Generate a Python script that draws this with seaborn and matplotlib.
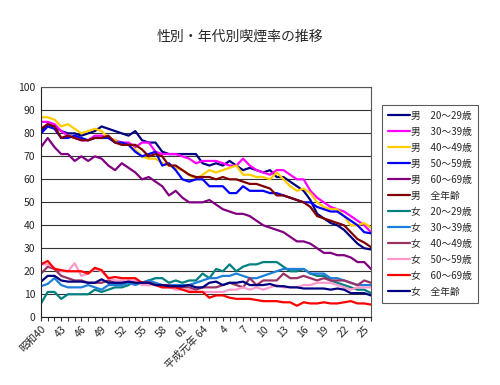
import pandas as pd
import matplotlib
matplotlib.use("Agg")
import matplotlib.pyplot as plt
import seaborn as sns

# years 1965 (昭和40) .. 2014 (平成26)
years = list(range(1965, 2015))

m20 = [81, 84, 83, 81, 80, 80, 79, 80, 81, 83, 82, 81, 80, 79, 81, 77, 76, 76, 72, 71,
       71, 71, 71, 71, 67, 66, 67, 66, 68, 66, 64, 65, 64, 63, 64, 61, 61, 59, 57, 55,
       51, 45, 43, 41, 40, 38, 35, 32, 30, 29.5]
m30 = [85, 85, 84, 81, 79, 78, 77, 77, 79, 79, 78, 77, 76, 76, 74, 76, 76, 72, 71, 71,
       71, 70, 69, 67, 68, 68, 68, 67, 66, 66, 69, 66, 64, 63, 62, 64, 64, 62, 60, 60,
       55, 52, 50, 48, 47, 46, 44, 42, 40, 37]
m40 = [87, 87, 86, 83, 84, 82, 80, 81, 82, 81, 78, 77, 75, 75, 73, 70, 69, 69, 67, 66,
       65, 64, 62, 60, 62, 64, 63, 64, 65, 66, 62, 62, 61, 61, 60, 63, 60, 57, 55, 56,
       54, 50, 48, 47, 47, 44, 40, 40, 41, 39]
m50 = [80, 83, 82, 78, 78, 79, 78, 77, 78, 78, 78, 76, 76, 75, 72, 70, 71, 72, 66, 67,
       64, 60, 59, 60, 60, 57, 57, 57, 54, 54, 57, 55, 55, 55, 54, 54, 53, 52, 51, 50,
       50, 48, 47, 46, 46, 44, 42, 40, 37, 36.5]
m60 = [74, 78, 74, 71, 71, 68, 70, 68, 70, 69, 66, 64, 67, 65, 63, 60, 61, 59, 57, 53,
       55, 52, 50, 50, 50, 51, 49, 47, 46, 45, 45, 44, 42, 40, 39, 38, 37, 35, 33, 33,
       32, 30, 28, 28, 27, 27, 26, 24, 24, 21]
m_all = [82, 84, 83, 78, 79, 78, 77, 77, 78, 78, 79, 76, 75, 75, 75, 73, 70, 71, 70, 66,
         66, 64, 62, 61, 61, 61, 60, 61, 60, 60, 59, 58, 58, 57, 56, 53, 53, 52, 51, 50,
         48, 44, 43, 42, 41, 40, 37, 34, 32.5, 30.5]
f20 = [6, 11, 11, 8, 10, 10, 10, 10, 12, 11, 12, 13, 13, 14, 16, 15, 16, 17, 17, 15,
       16, 15, 16, 16, 19, 17, 21, 20, 23, 20, 22, 23, 23, 24, 24, 24, 22, 20, 20, 21,
       19, 18, 18, 16, 15, 14, 13, 12, 12, 10.5]
f30 = [13.5, 14.5, 17, 14, 13, 13, 13, 14, 13, 12, 14, 14, 14, 15, 14, 15, 16, 15, 14, 14,
       14, 14, 14, 15, 16, 17, 17, 18, 18, 19, 18, 17, 17, 18, 19, 20, 21, 21, 21, 21,
       19, 19, 19, 17, 17, 16, 15, 14, 14, 14]
f40 = [19, 22, 21, 18, 17, 16, 16, 15, 15, 15, 16, 15, 15, 16, 15, 15, 15, 14, 14, 14,
       13, 13, 13, 12, 13, 13, 13, 14, 15, 14, 13, 17, 14, 16, 16, 16, 19, 17, 17, 18,
       17, 16, 17, 16, 16, 16, 15, 14, 16, 15]
f50 = [23, 23, 21.5, 20, 20, 23.5, 18, 19, 21, 20, 17, 16, 16, 16, 16, 14, 14, 14, 13, 13,
       12, 12, 12, 11, 11, 11, 11, 11, 12, 12, 13, 12, 13, 12, 13, 14, 13, 13, 13, 14,
       14, 15, 15, 15, 14, 13, 12, 13, 13, 13]
f60 = [23, 24.5, 21, 20.5, 20, 20, 20, 19, 21.5, 20.5, 17, 17.5, 17, 17, 17, 15, 15, 14, 13, 13,
       13, 12, 11, 11, 11, 8.5, 9.5, 9.5, 8.5, 8, 8, 8, 7.5, 7, 7, 7, 6.5, 6.5, 5, 6.5,
       6, 6, 6.5, 6, 6, 6.5, 7, 6, 6, 5.5]
f_all = [15.5, 18, 18, 16, 15.5, 15.5, 15.5, 15, 15, 16.5, 15, 15, 15, 15.5, 15, 15, 15, 14, 14, 13.5,
         13.5, 13.5, 14, 13, 13, 15, 15.5, 14, 15, 15, 15.5, 14, 14, 14, 14.5, 13.5, 13.5, 13, 13, 12.5,
         12.5, 12.5, 12.5, 12, 12.5, 12, 10.5, 10.5, 10.5, 9.5]

labels = ["男　20～29歳", "男　30～39歳", "男　40～49歳", "男　50～59歳", "男　60～69歳", "男　全年齢",
          "女　20～29歳", "女　30～39歳", "女　40～49歳", "女　50～59歳", "女　60～69歳", "女　全年齢"]
series = [m20, m30, m40, m50, m60, m_all, f20, f30, f40, f50, f60, f_all]
colors = ["#000080", "#FF00FF", "#FFCC00", "#0000FF", "#800080", "#800000",
          "#008080", "#1E7FD8", "#993366", "#FF99CC", "#FF0000", "#000080"]

tick_text = ["昭和40", "43", "46", "49", "52", "55", "58", "61", "平成元年 64",
             "4", "7", "10", "13", "16", "19", "22", "25"]

rows = []
for lab, vals in zip(labels, series):
    for i, v in enumerate(vals):
        rows.append({"idx": i, "rate": v, "group": lab})
df = pd.DataFrame(rows)

sns.set_style("white")
plt.rcParams["font.family"] = ["Noto Sans CJK JP", "DejaVu Sans"]

fig = plt.figure(figsize=(5, 3.85), dpi=100)
ax = fig.add_axes([0.082, 0.176, 0.66, 0.597])

sns.lineplot(data=df, x="idx", y="rate", hue="group", hue_order=labels,
             palette=dict(zip(labels, colors)), linewidth=1.6, ax=ax, legend=False)

ax.set_xlim(0, len(years) - 1)
ax.set_ylim(0, 100)
ax.set_yticks(range(0, 101, 10))
ax.yaxis.grid(True, color="#333333", linewidth=0.8)
ax.set_axisbelow(True)
ax.set_xlabel("")
ax.set_ylabel("")

ax.set_xticks(range(0, len(years)), minor=True)
ax.set_xticks(range(0, len(years), 3))
ax.set_xticklabels(tick_text, rotation=45, ha="right", rotation_mode="anchor", fontsize=7.5)
ax.tick_params(axis="x", which="both", direction="out", length=3, width=0.8, color="#333333", bottom=True, pad=2)
ax.tick_params(axis="y", labelsize=7.5, length=0, pad=4)
for s in ax.spines.values():
    s.set_color("#555555")
    s.set_linewidth(0.8)
ax.spines["left"].set_color("#222222")
ax.spines["bottom"].set_color("#222222")

handles = [plt.Line2D([], [], color=c, linewidth=1.6) for c in colors]
leg = fig.legend(handles, labels, loc="upper left", bbox_to_anchor=(0.764, 0.728),
                 fontsize=7, frameon=True, fancybox=False, edgecolor="#333333",
                 handlelength=2.3, handletextpad=0.1, labelspacing=0.62,
                 borderpad=0.6, borderaxespad=0)
leg.get_frame().set_linewidth(0.8)

fig.text(0.48, 0.905, "性別・年代別喫煙率の推移", ha="center", va="center", fontsize=10)

fig.savefig("out.png", dpi=100)
